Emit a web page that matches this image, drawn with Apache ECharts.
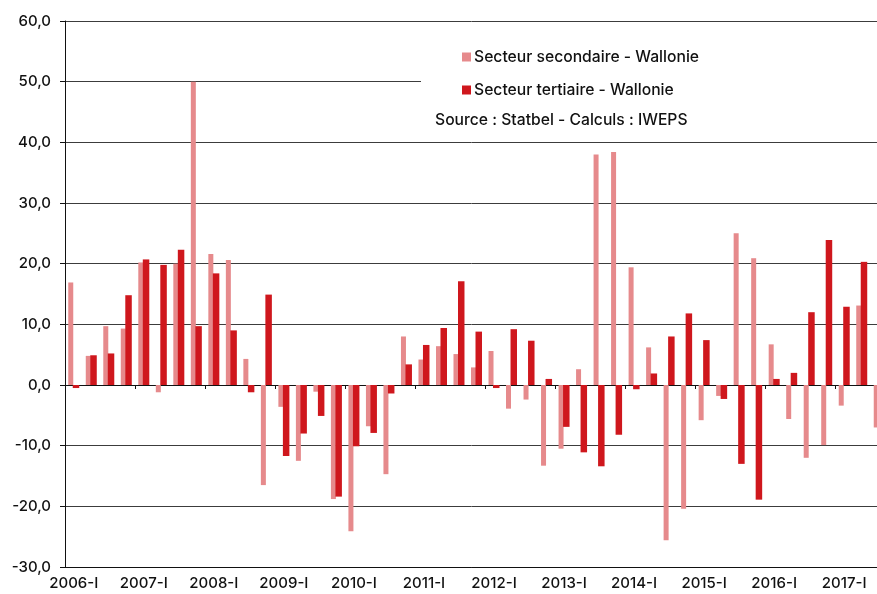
<!DOCTYPE html>
<html>
<head>
<meta charset="utf-8">
<title>Secteur secondaire / tertiaire - Wallonie</title>
<script src="https://cdn.jsdelivr.net/npm/echarts@6/dist/echarts.min.js"></script>
<style>
  html, body { margin: 0; padding: 0; background: #fff; }
  #chart { width: 877px; height: 594px; }
</style>
</head>
<body>
<div id="chart"></div>
<script>
// trimestres 2006-I .. 2017-III
const quarters = [];
const years = [2006, 2007, 2008, 2009, 2010, 2011, 2012, 2013, 2014, 2015, 2016, 2017];
const romans = ['I', 'II', 'III', 'IV'];
years.forEach(y => romans.forEach(r => quarters.push(y + '-' + r)));
quarters.length = 47;

const secondaire = [
  16.9, 4.8, 9.7, 9.3, 20.2, -1.2, 20.0, 50.0,
  21.6, 20.6, 4.3, -16.5, -3.6, -12.5, -1.1, -18.8,
  -24.1, -6.8, -14.7, 8.0, 4.2, 6.4, 5.1, 2.9,
  5.6, -3.9, -2.4, -13.3, -10.5, 2.6, 38.0, 38.4,
  19.4, 6.2, -25.6, -20.4, -5.8, -1.8, 25.0, 20.9,
  6.7, -5.6, -12.0, -9.9, -3.4, 13.1, -7.0
];
const tertiaire = [
  -0.5, 4.9, 5.2, 14.8, 20.7, 19.8, 22.3, 9.7,
  18.4, 9.0, -1.2, 14.9, -11.7, -8.0, -5.1, -18.4,
  -10.1, -7.9, -1.4, 3.4, 6.6, 9.4, 17.1, 8.8,
  -0.5, 9.2, 7.3, 1.0, -6.9, -11.1, -13.4, -8.2,
  -0.7, 1.9, 8.0, 11.8, 7.4, -2.3, -13.0, -18.9,
  1.0, 2.0, 12.0, 23.9, 12.9, 20.3, null
];

const fontFamily = 'Inter, "Noto Sans", sans-serif';
const pink = '#E68A8C';
const red = '#CF171D';

const chart = echarts.init(document.getElementById('chart'));
chart.setOption({
  animation: false,
  textStyle: { fontFamily: fontFamily },
  grid: {
    left: 65, top: 21, right: -11, bottom: 27,
    containLabel: false,
    outerBoundsMode: 'none' // la grille déborde à droite, comme l'original
  },
  legend: {
    orient: 'vertical',
    left: 462,
    top: 49,
    padding: 0,
    itemWidth: 9,
    itemHeight: 9,
    itemGap: 17,
    icon: 'rect',
    textStyle: { fontSize: 15.7, color: '#111', fontWeight: 500, padding: [0, 0, 0, -2] },
    data: ['Secteur secondaire - Wallonie', 'Secteur tertiaire - Wallonie']
  },
  graphic: [
    {
      // fond blanc derrière la légende (cache la ligne 50,0)
      type: 'rect',
      z: 1,
      shape: { x: 421, y: 36, width: 456, height: 98 },
      style: { fill: '#fff' }
    },
    {
      type: 'text',
      z: 5,
      left: 435,
      top: 112,
      style: { text: 'Source : Statbel - Calculs : IWEPS', font: '500 15.7px ' + fontFamily, fill: '#111' }
    }
  ],
  xAxis: [
    {
      type: 'category',
      data: quarters,
      position: 'bottom',
      axisLine: { onZero: false, lineStyle: { color: '#111', width: 1 } },
      axisTick: { show: false },
      axisLabel: { interval: 3, margin: 9, fontSize: 15, color: '#111', fontWeight: 500 }
    },
    {
      type: 'category',
      data: quarters,
      position: 'top',
      axisLine: { onZero: true, lineStyle: { color: '#111', width: 1 } },
      axisTick: { show: true, interval: 3, inside: true, length: 4, lineStyle: { color: '#111' } },
      axisLabel: { show: false }
    }
  ],
  yAxis: {
    type: 'value',
    min: -30,
    max: 60,
    interval: 10,
    axisLine: { show: true, lineStyle: { color: '#111', width: 1 } },
    axisTick: { show: true, length: 5, lineStyle: { color: '#111' } },
    axisLabel: {
      margin: 14,
      fontSize: 15,
      color: '#111',
      fontWeight: 500,
      formatter: v => v.toFixed(1).replace('.', ',')
    },
    splitLine: { show: true, lineStyle: { color: '#3c3c3c', width: 1 } }
  },
  series: [
    {
      name: 'Secteur secondaire - Wallonie',
      type: 'bar',
      xAxisIndex: 0,
      barWidth: 5,
      barGap: '-10%',
      itemStyle: { color: pink },
      data: secondaire
    },
    {
      name: 'Secteur tertiaire - Wallonie',
      type: 'bar',
      xAxisIndex: 0,
      barWidth: 6.5,
      barGap: '-10%',
      itemStyle: { color: red },
      data: tertiaire
    }
  ]
});
</script>
</body>
</html>
